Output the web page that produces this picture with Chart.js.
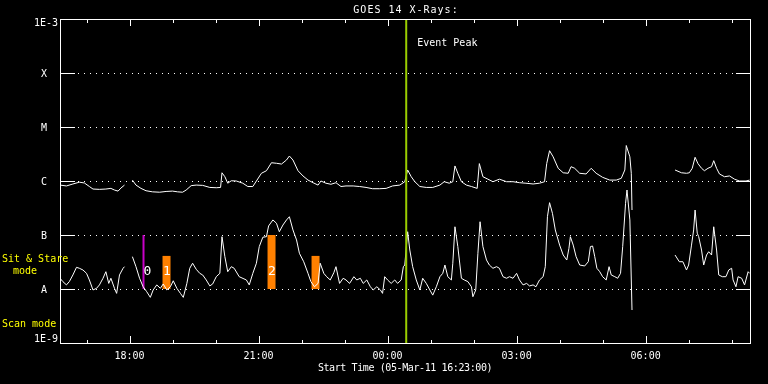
<!DOCTYPE html>
<html lang="en">
<head>
<meta charset="UTF-8">
<title>GOES 14 X-Rays</title>
<script src="https://cdn.jsdelivr.net/npm/chart.js"></script>
<style>
  html, body { margin: 0; padding: 0; background: #000; }
  canvas { display: block; }
</style>
</head>
<body>
<canvas id="goesChart" width="768" height="384"></canvas>
<script>
// times are minutes after the start time (05-Mar-11 16:23:00), flux in W/m^2
const titleText = 'GOES 14 X-Rays:';
const xTitleText = 'Start Time (05-Mar-11 16:23:00)';

const longTimes = [0, 9, 18, 27, 34, 41, 46, 55, 64, 71,
  76, 81, 85, 90, 95, 101, 106, 113, 120, 129,
  139, 148, 157, 164, 171, 176, 183, 190, 199, 209,
  218, 224, 226, 230, 234, 239, 246, 255, 262, 269,
  274, 281, 288, 295, 302, 309, 316, 320, 325, 332,
  339, 346, 353, 360, 364, 371, 378, 385, 392, 399,
  409, 418, 427, 436, 446, 455, 464, 474, 481, 485,
  490, 495, 502, 511, 520, 530, 536, 543, 548, 551,
  555, 560, 567, 574, 582, 585, 590, 597, 604, 613,
  623, 632, 641, 650, 660, 669, 676, 679, 683, 688,
  695, 702, 709, 713, 718, 725, 734, 741, 748, 757,
  767, 776, 783, 788, 790, 795, 797, 798, 820, 858,
  867, 874, 878, 882, 886, 890, 895, 899, 904, 909,
  912, 916, 920, 927, 934, 941, 948, 957, 962];
const longFlux = [8.4e-7, 8.1e-7, 8.8e-7, 9.5e-7, 9.2e-7, 7.9e-7, 7.1e-7, 7.0e-7, 7.1e-7, 7.3e-7,
  6.8e-7, 6.5e-7, 7.4e-7, 8.4e-7, null, 1.04e-6, 8.4e-7, 7.3e-7, 6.6e-7, 6.3e-7,
  6.2e-7, 6.4e-7, 6.5e-7, 6.3e-7, 6.2e-7, 6.8e-7, 8.2e-7, 8.4e-7, 8.3e-7, 7.6e-7,
  7.5e-7, 7.6e-7, 1.42e-6, 1.2e-6, 9.1e-7, 1.01e-6, 1.0e-6, 9.1e-7, 7.9e-7, 7.9e-7,
  1.0e-6, 1.39e-6, 1.55e-6, 2.18e-6, 2.13e-6, 2.06e-6, 2.45e-6, 2.9e-6, 2.45e-6, 1.55e-6,
  1.24e-6, 1.04e-6, 9.3e-7, 8.4e-7, 1.0e-6, 9.1e-7, 8.7e-7, 9.3e-7, 7.9e-7, 8.1e-7,
  8.1e-7, 7.9e-7, 7.6e-7, 7.2e-7, 7.2e-7, 7.3e-7, 8.1e-7, 8.4e-7, 9.7e-7, 1.6e-6,
  1.2e-6, 9.7e-7, 7.9e-7, 7.6e-7, 7.6e-7, 8.4e-7, 9.7e-7, 9.1e-7, 9.7e-7, 1.9e-6,
  1.39e-6, 9.7e-7, 8.4e-7, 7.9e-7, 7.3e-7, 2.1e-6, 1.2e-6, 1.08e-6, 9.7e-7, 1.08e-6,
  9.7e-7, 9.7e-7, 9.3e-7, 9.1e-7, 8.8e-7, 9.1e-7, 9.7e-7, 2.1e-6, 3.64e-6, 2.8e-6,
  1.72e-6, 1.42e-6, 1.39e-6, 1.84e-6, 1.72e-6, 1.39e-6, 1.35e-6, 1.72e-6, 1.39e-6, 1.17e-6,
  1.04e-6, 1.04e-6, 1.12e-6, 1.6e-6, 4.54e-6, 2.8e-6, 1.39e-6, 2.9e-7, null, 1.6e-6,
  1.42e-6, 1.39e-6, 1.42e-6, 1.72e-6, 2.75e-6, 2.1e-6, 1.72e-6, 1.55e-6, 1.72e-6, 1.84e-6,
  2.38e-6, 1.72e-6, 1.35e-6, 1.2e-6, 1.24e-6, 1.08e-6, 1.0e-6, 1.0e-6, 1.04e-6];

const shortTimes = [0, 4, 9, 13, 18, 23, 27, 32, 37, 41,
  46, 51, 55, 60, 64, 68, 71, 76, 79, 83,
  88, 90, 95, 101, 106, 111, 116, 121, 126, 130,
  135, 140, 144, 149, 154, 158, 163, 168, 172, 177,
  181, 185, 190, 195, 199, 204, 209, 213, 218, 223,
  226, 230, 234, 239, 243, 250, 260, 264, 269, 274,
  278, 283, 288, 291, 297, 302, 306, 311, 316, 320,
  325, 330, 334, 340, 346, 350, 355, 360, 363, 368,
  372, 377, 382, 385, 390, 395, 399, 404, 410, 414,
  419, 423, 428, 433, 437, 442, 447, 450, 453, 457,
  462, 467, 471, 476, 479, 481, 485, 488, 492, 497,
  502, 506, 511, 516, 520, 525, 530, 534, 537, 541,
  546, 548, 551, 555, 560, 564, 569, 574, 576, 580,
  583, 586, 590, 595, 599, 604, 609, 613, 618, 623,
  627, 632, 637, 641, 646, 651, 655, 660, 664, 669,
  674, 677, 680, 683, 687, 691, 697, 702, 707, 710,
  712, 716, 720, 725, 732, 737, 740, 743, 746, 749,
  753, 757, 762, 766, 769, 774, 778, 782, 785, 789,
  791, 795, 798, 820, 858, 864, 869, 874, 877, 881,
  884, 886, 889, 891, 895, 898, 902, 905, 909, 912,
  916, 919, 924, 929, 933, 937, 939, 943, 946, 951,
  955, 960, 962];
const shortFlux = [1.58e-8, 1.37e-8, 1.19e-8, 1.37e-8, 1.82e-8, 2.52e-8, 2.42e-8, 2.25e-8, 1.95e-8, 1.47e-8,
  9.6e-9, 1.03e-8, 1.19e-8, 1.58e-8, 2.09e-8, 1.27e-8, 1.58e-8, 1.03e-8, 8.3e-9, 1.82e-8,
  2.42e-8, 2.59e-8, null, 3.97e-8, 2.59e-8, 1.58e-8, 1.1e-8, 8.9e-9, 7.0e-9, 9.6e-9,
  1.19e-8, 1.03e-8, 1.24e-8, 9.6e-9, 1.1e-8, 1.42e-8, 1.03e-8, 8.3e-9, 7.0e-9, 1.27e-8,
  2.42e-8, 3.0e-8, 2.32e-8, 1.95e-8, 1.82e-8, 1.47e-8, 1.14e-8, 1.24e-8, 1.69e-8, 1.95e-8,
  9.3e-8, 3.97e-8, 2.09e-8, 2.59e-8, 2.42e-8, 1.69e-8, 1.47e-8, 1.19e-8, 1.95e-8, 3.0e-8,
  6.1e-8, 9.1e-8, 9.3e-8, 1.47e-7, 1.9e-7, 1.65e-7, 1.15e-7, 1.53e-7, 1.9e-7, 2.18e-7,
  1.24e-7, 8.1e-8, 4.58e-8, 3.2e-8, 1.95e-8, 1.37e-8, 1.1e-8, 1.27e-8, 3.0e-8, 1.95e-8,
  1.69e-8, 1.47e-8, 2.0e-8, 2.59e-8, 1.27e-8, 1.58e-8, 1.47e-8, 1.27e-8, 1.69e-8, 1.47e-8,
  1.58e-8, 1.27e-8, 1.47e-8, 1.1e-8, 9.6e-9, 1.1e-8, 9.6e-9, 8.3e-9, 1.69e-8, 1.47e-8,
  1.27e-8, 1.47e-8, 1.27e-8, 1.47e-8, 2.59e-8, 2.78e-8, 1.15e-7, 5.27e-8, 2.59e-8, 1.47e-8,
  9.6e-9, 1.58e-8, 1.27e-8, 9.6e-9, 7.7e-9, 1.1e-8, 1.69e-8, 1.95e-8, 2.78e-8, 1.69e-8,
  1.47e-8, 3.0e-8, 1.42e-7, 6.1e-8, 1.58e-8, 1.47e-8, 1.37e-8, 1.1e-8, 7.2e-9, 9.6e-9,
  4.58e-8, 1.76e-7, 6.1e-8, 3.44e-8, 2.78e-8, 2.42e-8, 2.59e-8, 2.42e-8, 1.69e-8, 1.58e-8,
  1.69e-8, 1.58e-8, 1.95e-8, 1.47e-8, 1.19e-8, 1.27e-8, 1.14e-8, 1.19e-8, 1.1e-8, 1.47e-8,
  1.69e-8, 2.59e-8, 2.18e-7, 3.97e-7, 2.52e-7, 1.24e-7, 6.5e-8, 4.26e-8, 3.44e-8, 5.66e-8,
  9.3e-8, 6.5e-8, 3.97e-8, 2.78e-8, 2.67e-8, 3.2e-8, 6.1e-8, 6.25e-8, 3.97e-8, 2.42e-8,
  2.09e-8, 1.69e-8, 1.47e-8, 2.59e-8, 1.82e-8, 1.69e-8, 1.58e-8, 1.95e-8, 6.1e-8, 3.86e-7,
  6.81e-7, 1.9e-7, 4.08e-9, null, 4.26e-8, 3.2e-8, 3.2e-8, 2.25e-8, 2.78e-8, 6.5e-8,
  1.24e-7, 2.9e-7, 1.08e-7, 9.3e-8, 5.27e-8, 2.78e-8, 4.26e-8, 4.9e-8, 4.26e-8, 1.42e-7,
  5.27e-8, 1.82e-8, 1.69e-8, 1.69e-8, 2.25e-8, 2.42e-8, 1.47e-8, 1.1e-8, 1.69e-8, 1.58e-8,
  1.19e-8, 2.09e-8, 1.95e-8];

// axis ticks
const xMajorTimes = [97, 277, 457, 637, 817];
const xMajorLabels = ['18:00', '21:00', '00:00', '03:00', '06:00'];
const xMinorTimes = [37, 157, 217, 337, 397, 517, 577, 697, 757, 877, 937];
const yTickValues = [1e-3, 1e-4, 1e-5, 1e-6, 1e-7, 1e-8, 1e-9];
const yTickLabels = ['1E-3', 'X', 'M', 'C', 'B', 'A', '1E-9'];

// event peak and mode markers
const eventPeakTime = 483;
const markerTimes = [116.5, 148.6, 295.1, 356.5];
const markerTops = [1e-7, 4.1e-8, 1e-7, 4.1e-8];
const markerLabels = ['0', '1', '2', ''];
const markerKinds = ['line', 'bar', 'bar', 'bar'];

const FONT = '10px "DejaVu Sans Mono", monospace';

function toPoints(times, flux) {
    return times.map((t, i) => ({ x: t, y: flux[i] }));
}

let datasets = [
    { data: toPoints(longTimes, longFlux), order: 1 },
    { data: toPoints(shortTimes, shortFlux), order: 1 },
    {
        data: [{ x: eventPeakTime, y: 1e-9 }, { x: eventPeakTime, y: 1e-3 }],
        borderColor: '#9acd00', borderWidth: 2, order: 0
    }
];
markerTimes.forEach((t, i) => {
    let isBar = markerKinds[i] === 'bar';
    datasets.push({
        data: [{ x: t, y: 1e-8 }, { x: t, y: markerTops[i] }],
        borderColor: isBar ? '#ff8000' : '#c800c8',
        borderWidth: isBar ? 8 : 2,
        order: 2
    });
});
datasets.forEach(ds => {
    ds.borderColor = ds.borderColor || '#ffffff';
    ds.borderWidth = ds.borderWidth || 1;
    ds.pointRadius = 0;
    ds.tension = 0;
    ds.spanGaps = false;
    ds.fill = false;
});

const goesDecor = {
    id: 'goesDecor',
    beforeDraw(chart) {
        let c = chart.ctx;
        c.save();
        c.fillStyle = '#000';
        c.fillRect(0, 0, chart.width, chart.height);
        c.restore();
    },
    beforeDatasetsDraw(chart) {
        let c = chart.ctx, a = chart.chartArea, y = chart.scales.y;
        c.save();
        c.fillStyle = '#ffffff';
        yTickValues.slice(1, -1).forEach(v => {
            let py = Math.round(y.getPixelForValue(v));
            for (let px = Math.round(a.left) + 18; px < a.right - 1; px += 6) {
                c.fillRect(px, py, 1, 1);
            }
        });
        c.restore();
    },
    afterDatasetsDraw(chart) {
        let c = chart.ctx, a = chart.chartArea, x = chart.scales.x, y = chart.scales.y;
        let L = Math.round(a.left), R = Math.round(a.right) - 1;
        let T = Math.round(a.top), B = Math.round(a.bottom);
        c.save();
        c.fillStyle = '#ffffff';
        // frame
        c.fillRect(L, T, R - L + 1, 1);
        c.fillRect(L, B, R - L + 1, 1);
        c.fillRect(L, T, 1, B - T + 1);
        c.fillRect(R, T, 1, B - T + 1);
        // x ticks, top and bottom
        xMajorTimes.forEach(t => {
            let px = Math.round(x.getPixelForValue(t));
            c.fillRect(px, B - 7, 1, 7);
            c.fillRect(px, T + 1, 1, 6);
        });
        xMinorTimes.forEach(t => {
            let px = Math.round(x.getPixelForValue(t));
            c.fillRect(px, B - 3, 1, 3);
            c.fillRect(px, T + 1, 1, 3);
        });
        // y ticks, left and right
        yTickValues.slice(1, -1).forEach(v => {
            let py = Math.round(y.getPixelForValue(v));
            c.fillRect(L, py, 15, 1);
            c.fillRect(R - 14, py, 15, 1);
        });

        c.font = FONT;
        c.textBaseline = 'middle';
        // x labels
        c.textAlign = 'center';
        xMajorTimes.forEach((t, i) => {
            c.fillText(xMajorLabels[i], x.getPixelForValue(t), B + 13);
        });
        // y labels
        yTickValues.forEach((v, i) => {
            let py = Math.min(Math.max(y.getPixelForValue(v), T + 4), B - 4);
            if (yTickLabels[i].length > 1) {
                c.textAlign = 'right';
                c.fillText(yTickLabels[i], L - 2, py + 0.5);
            } else {
                c.textAlign = 'center';
                c.fillText(yTickLabels[i], L - 16, py + 1);
            }
        });
        // titles
        c.textAlign = 'center';
        c.letterSpacing = '1px';
        c.fillText(titleText, (L + R) / 2 + 1, 10);
        c.letterSpacing = '-0.4px';
        c.fillText(xTitleText, (L + R) / 2, 368);
        c.letterSpacing = '0px';

        // event peak label
        c.textAlign = 'left';
        c.fillText('Event Peak', x.getPixelForValue(eventPeakTime) + 11, 43.5);

        // marker numbers
        c.font = '13px "DejaVu Sans Mono", monospace';
        c.textAlign = 'center';
        markerTimes.forEach((t, i) => {
            let px = x.getPixelForValue(t) + (markerKinds[i] === 'line' ? 4 : 0.5);
            c.fillText(markerLabels[i], px, 272);
        });

        // mode labels
        c.font = FONT;
        c.fillStyle = '#ffff00';
        c.textAlign = 'left';
        c.fillText('Sit & Stare', 2, 259.5);
        c.fillText('mode', 13, 271);
        c.fillText('Scan mode', 2, 324.5);
        c.restore();
    }
};

new Chart(document.getElementById('goesChart'), {
    type: 'line',
    data: { datasets: datasets },
    options: {
        responsive: false,
        animation: false,
        devicePixelRatio: 1,
        events: [],
        layout: { padding: { left: 60, right: 17, top: 19, bottom: 41 } },
        plugins: { legend: { display: false }, tooltip: { enabled: false } },
        scales: {
            x: { type: 'linear', min: 0, max: 964, display: false },
            y: { type: 'logarithmic', min: 1e-9, max: 1e-3, display: false }
        }
    },
    plugins: [goesDecor]
});
</script>
</body>
</html>
